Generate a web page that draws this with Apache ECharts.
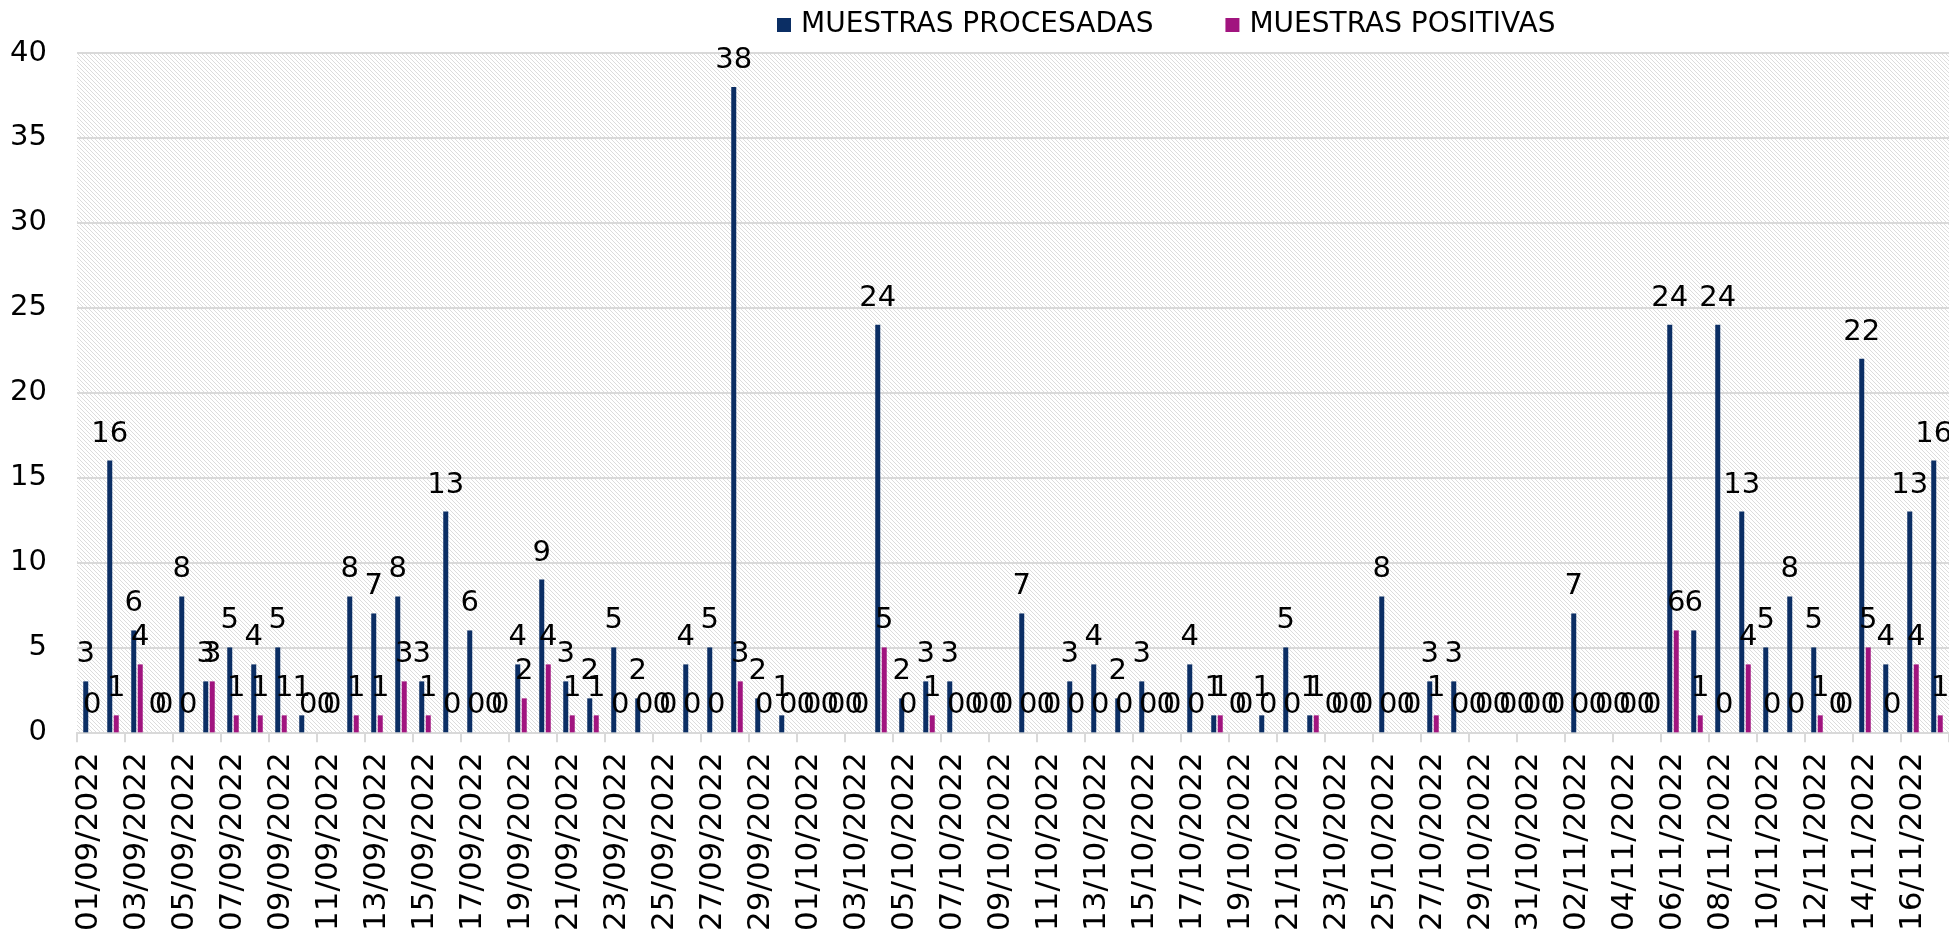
<!DOCTYPE html>
<html>
<head>
<meta charset="utf-8">
<title>Muestras</title>
<script src="https://cdn.jsdelivr.net/npm/echarts@6/dist/echarts.min.js"></script>
<style>
body{margin:0;background:#fff;}
#main{width:1949px;height:934px;}
</style>
</head>
<body>
<div id="main"></div>
<script>
// fechas (01/09/2022 - 17/11/2022)
var fechas = [
    '01/09/2022','02/09/2022','03/09/2022','04/09/2022','05/09/2022','06/09/2022','07/09/2022','08/09/2022','09/09/2022','10/09/2022',
    '11/09/2022','12/09/2022','13/09/2022','14/09/2022','15/09/2022','16/09/2022','17/09/2022','18/09/2022','19/09/2022','20/09/2022',
    '21/09/2022','22/09/2022','23/09/2022','24/09/2022','25/09/2022','26/09/2022','27/09/2022','28/09/2022','29/09/2022','30/09/2022',
    '01/10/2022','02/10/2022','03/10/2022','04/10/2022','05/10/2022','06/10/2022','07/10/2022','08/10/2022','09/10/2022','10/10/2022',
    '11/10/2022','12/10/2022','13/10/2022','14/10/2022','15/10/2022','16/10/2022','17/10/2022','18/10/2022','19/10/2022','20/10/2022',
    '21/10/2022','22/10/2022','23/10/2022','24/10/2022','25/10/2022','26/10/2022','27/10/2022','28/10/2022','29/10/2022','30/10/2022',
    '31/10/2022','01/11/2022','02/11/2022','03/11/2022','04/11/2022','05/11/2022','06/11/2022','07/11/2022','08/11/2022','09/11/2022',
    '10/11/2022','11/11/2022','12/11/2022','13/11/2022','14/11/2022','15/11/2022','16/11/2022','17/11/2022'
]
var procesadas = [
    3,16,6,0,8,3,5,4,5,1,
    0,8,7,8,3,13,6,0,4,9,
    3,2,5,2,0,4,5,38,2,1,
    0,0,0,24,2,3,3,0,0,7,
    0,3,4,2,3,0,4,1,0,1,
    5,1,0,0,8,0,3,3,0,0,
    0,0,7,0,0,0,24,6,24,13,
    5,8,5,0,22,4,13,16
]
var positivas = [
    0,1,4,0,0,3,1,1,1,0,
    0,1,1,3,1,0,0,0,2,4,
    1,1,0,0,0,0,0,3,0,0,
    0,0,0,5,0,1,0,0,0,0,
    0,0,0,0,0,0,0,1,0,0,
    0,1,0,0,0,0,1,0,0,0,
    0,0,0,0,0,0,6,1,0,4,
    0,0,1,0,5,0,4,1
]
var yTicks = [0,5,10,15,20,25,30,35,40]

var fuente = 'DejaVu Sans'

// fondo rayado del area de trazado
var trama = document.createElement('canvas')
trama.width = 4
trama.height = 4
var ctx = trama.getContext('2d')
ctx.fillStyle = '#ffffff'
ctx.fillRect(0,0,4,4)
ctx.fillStyle = '#dcdcdc'
for(var i=0;i<4;i++){
    ctx.fillRect(i,i,1,1)
}

var myChart = echarts.init(document.getElementById('main'));

var etiqueta = {
    show:true,
    position:'top',
    distance:12,
    color:'#000',
    fontFamily:fuente,
    fontSize:29
}

var option = {
    animation:false,
    color:['#0b2e64','#a1147f'],
    legend: {
        left:772,
        top:6,
        icon:'rect',
        itemWidth:14,
        itemHeight:14,
        itemGap:72,
        textStyle:{
            color:'#000',
            fontFamily:fuente,
            fontSize:28,
            padding:[0,0,0,5]
        },
        data:['MUESTRAS PROCESADAS','MUESTRAS POSITIVAS']
    },
    grid: {
        left:77,
        right:0,
        top:53,
        bottom:191,
        show:true,
        borderWidth:0,
        backgroundColor:{image:trama, repeat:'repeat'}
    },
    xAxis: {
        type:'category',
        data:fechas,
        axisLine:{
            show:true,
            lineStyle:{color:'#d9d9d9',width:2}
        },
        axisTick:{
            show:true,
            interval:1,
            length:10,
            lineStyle:{color:'#d9d9d9',width:2}
        },
        axisLabel:{
            interval:1,
            rotate:90,
            margin:20,
            color:'#000',
            fontFamily:fuente,
            fontSize:31
        }
    },
    yAxis: {
        type:'value',
        min:yTicks[0],
        max:yTicks[yTicks.length-1],
        interval:yTicks[1]-yTicks[0],
        axisLine:{show:false},
        axisTick:{show:false},
        splitLine:{
            show:true,
            lineStyle:{color:'#d9d9d9',width:2}
        },
        axisLabel:{
            margin:30,
            color:'#000',
            fontFamily:fuente,
            fontSize:29
        }
    },
    series: [
        {
            name:'MUESTRAS PROCESADAS',
            type:'bar',
            barWidth:5,
            barGap:'30%',
            label:etiqueta,
            data:procesadas
        },
        {
            name:'MUESTRAS POSITIVAS',
            type:'bar',
            barWidth:5,
            barGap:'30%',
            label:etiqueta,
            data:positivas
        }
    ]
};
myChart.setOption(option);
</script>
</body>
</html>
